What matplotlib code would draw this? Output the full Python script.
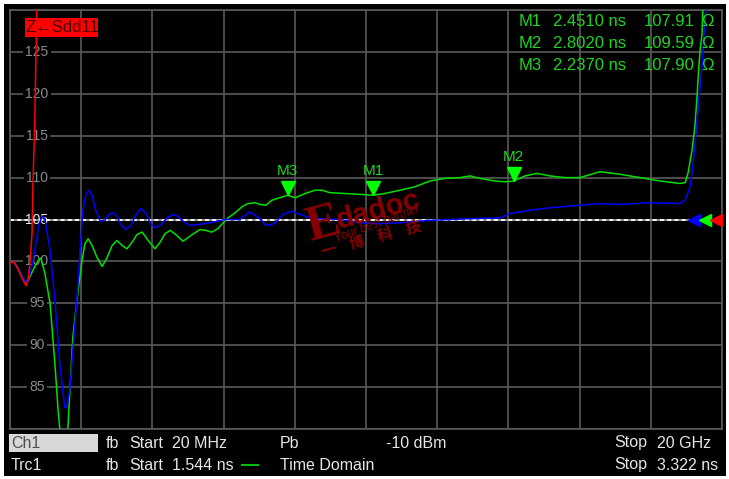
import matplotlib
matplotlib.use("Agg")
import matplotlib.pyplot as plt
import matplotlib.transforms as mtransforms
from matplotlib.patches import Rectangle
from matplotlib.lines import Line2D
import numpy as np

plt.rcParams['font.family'] = ['Liberation Sans', 'DejaVu Sans']

W, H = 729, 479

# sweep / axis settings (time domain, ns and ohm)
t_start, t_stop = 1.544, 3.322
z_min, z_max = 80, 130
z_labels = [85, 90, 95, 100, 105, 110, 115, 120, 125]
z_ref = 105

# Trc green (ns, ohm)
green_t = [1.544, 1.554, 1.564, 1.574, 1.584, 1.594, 1.604, 1.614, 1.621, 1.631,
           1.644, 1.656, 1.664, 1.671, 1.684, 1.689, 1.701, 1.714, 1.724, 1.731,
           1.739, 1.749, 1.761, 1.774, 1.786, 1.799, 1.811, 1.824, 1.836, 1.849,
           1.861, 1.874, 1.889, 1.906, 1.919, 1.931, 1.944, 1.958, 1.976, 1.993,
           2.018, 2.033, 2.048, 2.063, 2.086, 2.106, 2.123, 2.138, 2.156, 2.168,
           2.183, 2.198, 2.218, 2.237, 2.256, 2.281, 2.306, 2.323, 2.343, 2.381,
           2.418, 2.451, 2.480, 2.518, 2.555, 2.593, 2.630, 2.668, 2.693, 2.718,
           2.755, 2.780, 2.802, 2.830, 2.860, 2.892, 2.930, 2.967, 3.017, 3.067,
           3.117, 3.167, 3.217, 3.230, 3.237, 3.247, 3.254, 3.259, 3.264, 3.267,
           3.272, 3.274, 3.277]
green_z = [99.9, 99.9, 99.2, 98.2, 97.5, 98.2, 99.2, 100.1, 100.4, 98.6,
           95.0, 87.9, 82.3, 78.7, 78.1, 80.5, 91.0, 96.5, 100.1, 102.1,
           102.7, 101.9, 100.5, 99.4, 100.4, 101.9, 102.5, 101.9, 101.5, 102.3,
           103.2, 103.5, 102.5, 101.5, 102.3, 103.3, 103.7, 103.2, 102.4, 103.0,
           103.8, 103.7, 103.5, 103.9, 105.1, 105.8, 106.5, 106.9, 107.0, 106.8,
           106.7, 107.3, 107.6, 107.9, 107.6, 108.1, 108.5, 108.5, 108.2, 108.1,
           108.0, 107.9, 108.1, 108.5, 108.9, 109.6, 109.9, 110.0, 110.2, 109.9,
           109.6, 109.5, 109.6, 110.2, 110.5, 110.2, 110.0, 110.0, 110.7, 110.4,
           110.0, 109.6, 109.3, 109.4, 110.5, 113.2, 116.0, 119.2, 123.1, 125.1,
           127.1, 129.9, 133.5]

# Trc blue (ns, ohm)
blue_t = [1.544, 1.554, 1.564, 1.574, 1.584, 1.594, 1.601, 1.609, 1.616, 1.624,
          1.631, 1.644, 1.656, 1.669, 1.681, 1.686, 1.694, 1.701, 1.711, 1.719,
          1.726, 1.734, 1.741, 1.749, 1.756, 1.769, 1.781, 1.791, 1.801, 1.811,
          1.821, 1.834, 1.846, 1.859, 1.871, 1.884, 1.894, 1.906, 1.919, 1.936,
          1.951, 1.963, 1.976, 1.993, 2.013, 2.043, 2.081, 2.118, 2.143, 2.168,
          2.181, 2.193, 2.206, 2.226, 2.248, 2.268, 2.293, 2.318, 2.368, 2.418,
          2.468, 2.518, 2.593, 2.693, 2.768, 2.792, 2.842, 2.892, 2.967, 3.017,
          3.067, 3.142, 3.217, 3.230, 3.242, 3.249, 3.257, 3.264, 3.272, 3.277,
          3.282, 3.284]
blue_z = [99.9, 99.9, 99.2, 98.2, 97.5, 98.5, 99.9, 102.3, 104.3, 105.4,
          105.1, 101.3, 95.4, 87.4, 82.6, 82.5, 85.0, 89.4, 95.4, 101.3,
          106.1, 108.0, 108.5, 107.9, 106.4, 104.8, 104.9, 105.6, 105.8, 105.4,
          104.4, 103.8, 104.3, 105.6, 106.3, 105.7, 104.6, 104.0, 104.3, 105.2,
          105.6, 105.4, 104.8, 104.3, 104.4, 104.6, 105.0, 105.0, 105.9, 105.1,
          104.4, 104.3, 104.6, 105.6, 106.0, 105.6, 105.2, 105.1, 105.0, 104.6,
          104.5, 104.6, 104.9, 105.1, 105.2, 105.7, 106.1, 106.4, 106.7, 106.9,
          106.8, 107.0, 106.9, 107.3, 108.8, 111.2, 115.2, 119.2, 123.1, 127.1,
          129.9, 133.5]

# Trc red (ns, ohm)
red_t = [1.544, 1.554, 1.564, 1.574, 1.584, 1.589, 1.594, 1.599, 1.601, 1.603,
         1.606, 1.609, 1.611, 1.612]
red_z = [99.9, 99.9, 99.1, 98.0, 97.1, 97.7, 99.9, 103.3, 108.5, 112.0,
         116.9, 124.9, 129.9, 132.3]

marker_names = ["M1", "M2", "M3"]
marker_t = [2.451, 2.802, 2.237]
marker_z = [107.91, 109.59, 107.90]

trace_label = "Z\u2190Sdd11"
status_row1 = ["fb", "Start", "20 MHz", "Pb", "-10 dBm", "Stop", "20 GHz"]
status_row2 = ["fb", "Start", "1.544 ns", "Time Domain", "Stop", "3.322 ns"]

GRID = '#5a5a5a'
GREEN = '#00e000'
BLUE = '#0000ff'
RED = '#ff0000'
TXT_GREEN = '#1fd41f'
WM = '#880000'


def fx(x):
    return x / W


def fy(y):
    return 1 - y / H


fig = plt.figure(figsize=(W / 100, H / 100), dpi=100)
fig.patch.set_facecolor('white')
fig.add_artist(Rectangle((fx(4), fy(476)), fx(722), 472 / H, transform=fig.transFigure,
                         facecolor='black', edgecolor='none', zorder=0))

ax = fig.add_axes([fx(10), fy(429), fx(712), 419 / H])
ax.set_facecolor('black')
ax.set_xlim(t_start, t_stop)
ax.set_ylim(z_min, z_max)
ax.set_xticks(np.linspace(t_start, t_stop, 11))
ax.set_yticks(np.arange(z_min, z_max + 1, 5))
ax.tick_params(length=0, labelbottom=False, labelleft=False)
ax.set_axisbelow(True)
ax.grid(True, color=GRID, lw=1.2)
for s in ax.spines.values():
    s.set_color(GRID)
    s.set_linewidth(1.2)

# y labels sit inside the grid, on a black patch
lab_tr = mtransforms.blended_transform_factory(ax.transAxes, ax.transData)
for v in z_labels:
    ax.text(0.038, v, str(v), transform=lab_tr, ha='center', va='center',
            fontsize=10, color='#e8e8e8' if v == z_ref else '#8a8a8a', zorder=1,
            bbox=dict(facecolor='black', edgecolor='none', pad=1.5))

# reference line
ax.axhline(z_ref, color='#909090', lw=1.3, zorder=2)
ax.axhline(z_ref, color='white', lw=1.3, dashes=(2.2, 1.8), zorder=2.1)

# watermark (under the traces)
fig.text(fx(323), fy(225), "E", fontsize=36, family='Liberation Serif', weight='bold',
         color=WM, rotation=15, ha='center', va='center', zorder=1)
fig.text(fx(378), fy(210), "dadoc", fontsize=21, weight='bold', color=WM,
         rotation=15, ha='center', va='center', zorder=1)
fig.text(fx(377), fy(224), "Your best partner", fontsize=8.5, style='italic', color=WM,
         rotation=20, ha='center', va='center', zorder=1)
fig.text(fx(371), fy(239), "\u4e00    \u535a    \u79d1    \u6280", fontsize=11,
         family=['Noto Sans CJK SC', 'DejaVu Sans'], weight='bold', color=WM,
         rotation=15, ha='center', va='center', zorder=1)

ax.plot(green_t, green_z, color=GREEN, lw=1.1, zorder=3)
ax.plot(blue_t, blue_z, color=BLUE, lw=1.1, zorder=3.1)
ax.plot(red_t, red_z, color=RED, lw=1.1, zorder=3.2)

# markers
tri_off = mtransforms.offset_copy(ax.transData, fig=fig, x=0, y=7, units='dots')
lab_off = mtransforms.offset_copy(ax.transData, fig=fig, x=0, y=24, units='dots')
ax.plot(marker_t, marker_z, 'v', ms=10, color='#00ff00', transform=tri_off,
        zorder=4, clip_on=False)
for name, t, z in zip(marker_names, marker_t, marker_z):
    ax.text(t, z, name, transform=lab_off, ha='center', va='center',
            fontsize=11, color=TXT_GREEN, zorder=4)

# reference-level arrows at right edge
for xa, c in [(0.960, BLUE), (0.976, '#00ff00'), (0.992, RED)]:
    ax.plot([xa], [z_ref], '<', ms=9, color=c, transform=lab_tr, zorder=5, clip_on=False)

# marker table
for i, (name, t, z) in enumerate(zip(marker_names, marker_t, marker_z)):
    y = fy(22 + i * 21.5)
    fig.text(fx(519), y, name, fontsize=12, color=TXT_GREEN, va='center')
    fig.text(fx(553), y, f"{t:.4f} ns", fontsize=12, color=TXT_GREEN, va='center')
    fig.text(fx(695), y, f"{z:.2f}", fontsize=12, color=TXT_GREEN, va='center', ha='right')
    fig.text(fx(701), y, "\u03a9", fontsize=12, color=TXT_GREEN, va='center')

# trace label box
fig.add_artist(Rectangle((fx(25), fy(37)), fx(73), 19 / H, transform=fig.transFigure,
                         facecolor=RED, edgecolor='none', zorder=6))
fig.text(fx(26), fy(28), trace_label, fontsize=12, color='#4a0000', va='center', zorder=7)

# status bar
fig.add_artist(Rectangle((fx(9), fy(452)), fx(89), 18 / H, transform=fig.transFigure,
                         facecolor='#d8d8d8', edgecolor='none', zorder=1))
fig.text(fx(11), fy(443), "Ch1", fontsize=11.5, color='#505050', va='center', zorder=2)
fig.text(fx(11), fy(465), "Trc1", fontsize=11.5, color='#e6e6e6', va='center')
ST = '#e6e6e6'
row1_x = [106, 129, 172, 280, 386, 614, 657]
for s, x in zip(status_row1, row1_x):
    fig.text(fx(x), fy(443), s, fontsize=11.5, color=ST, va='center')
row2_x = [106, 129, 172, 280, 614, 657]
for s, x in zip(status_row2, row2_x):
    fig.text(fx(x), fy(465), s, fontsize=11.5, color=ST, va='center')
fig.add_artist(Line2D([fx(242), fx(258)], [fy(465), fy(465)], transform=fig.transFigure,
                      color='#00c000', lw=1.5))

fig.savefig("out.png", dpi=100, facecolor=fig.get_facecolor())
